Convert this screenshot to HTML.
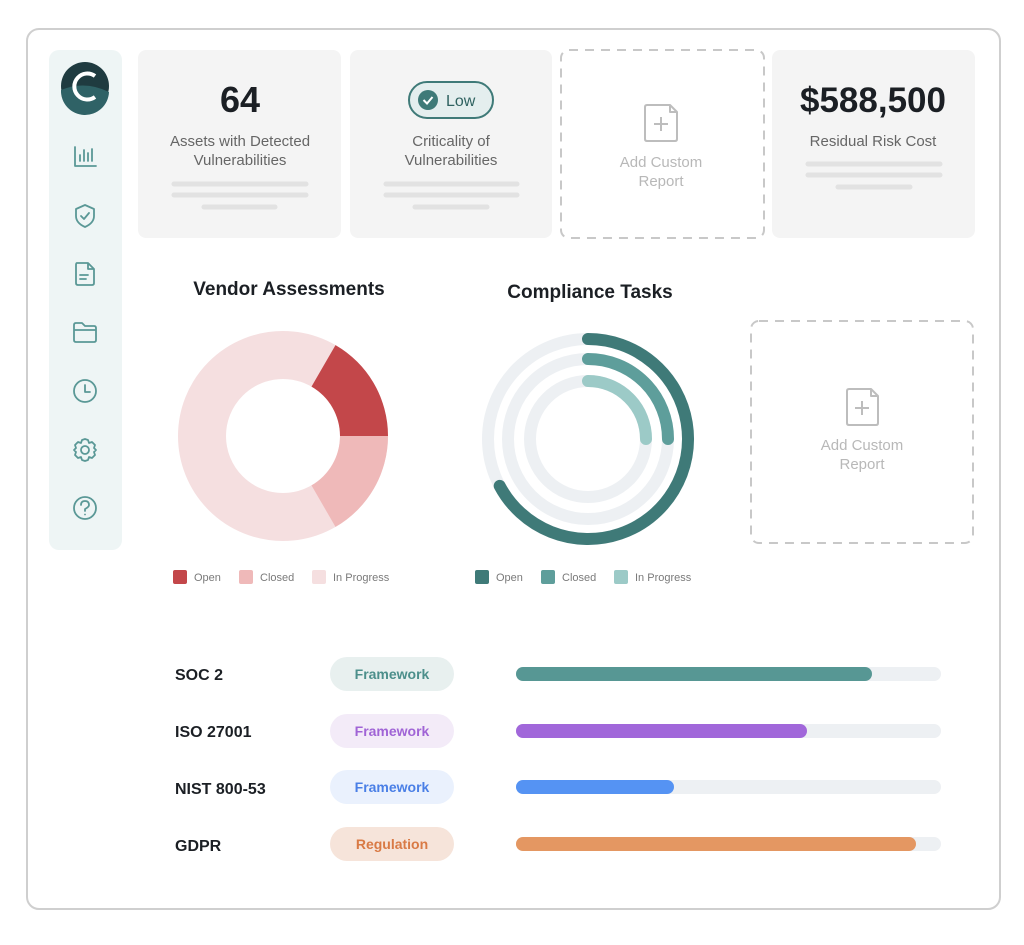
<!DOCTYPE html>
<html><head><style>
html,body{margin:0;padding:0;background:#fff;}
svg{display:block;font-family:"Liberation Sans",sans-serif;}
</style></head><body>
<svg width="1024" height="945" viewBox="0 0 1024 945" xmlns="http://www.w3.org/2000/svg">
<rect x="27" y="29" width="973" height="880" rx="12" fill="#fff" stroke="#cfcfcf" stroke-width="2"/>
<!-- sidebar -->
<rect x="49" y="50" width="73" height="500" rx="10" fill="#eef5f5"/>
<circle cx="85" cy="86" r="24" fill="#1f3b40"/>
<path d="M61 90 Q85 80 109 92 A24 24 0 0 1 61 90Z" fill="#2f6266"/>
<path d="M95 76 A13 13 0 1 0 95 97" fill="none" stroke="#fff" stroke-width="4"/>
<g fill="none" stroke="#5a9896" stroke-width="1.8" stroke-linecap="round" stroke-linejoin="round">
<path d="M75 147 V166 H96 M80 161 V155 M84 161 V150 M88 161 V153 M92 161 V149"/>
<path d="M85 205 L94 209 V216 Q94 223 85 227 Q76 223 76 216 V209Z M81 216 L84 219 L89 213"/>
<path d="M77 263 H88 L94 269 V283 Q94 285 92 285 H78 Q76 285 76 283 V265 Q76 263 77 263Z M88 263 V269 H94 M80 275 H88 M80 279 H86"/>
<path d="M74 325 Q74 323 76 323 H82 L85 326 H94 Q96 326 96 328 V340 Q96 342 94 342 H76 Q74 342 74 340Z M74 330 H96"/>
<circle cx="85" cy="391" r="11"/><path d="M85 385 V392 H90"/>
<circle cx="85" cy="450" r="4"/>
<path d="M85 439 L88 440 L89 443 L92 442 L95 445 L94 448 L96 450 L94 452 L95 455 L92 458 L89 457 L88 460 L85 461 L82 460 L81 457 L78 458 L75 455 L76 452 L74 450 L76 448 L75 445 L78 442 L81 443 L82 440Z"/>
<circle cx="85" cy="508" r="11"/><path d="M81 505 Q81 501 85 501 Q89 501 89 505 Q89 507 85 509 V511"/>
</g>
<circle cx="85" cy="514.5" r="0.9" fill="#5a9896"/>
<!-- top cards -->
<rect x="138" y="50" width="203" height="188" rx="8" fill="#f4f4f4"/>
<rect x="350" y="50" width="202" height="188" rx="8" fill="#f4f4f4"/>
<rect x="561" y="50" width="203" height="188" rx="8" fill="#fff" stroke="#c8c8c8" stroke-width="2" stroke-dasharray="9 7"/>
<rect x="772" y="50" width="203" height="188" rx="8" fill="#f4f4f4"/>
<rect x="751" y="321" width="222" height="222" rx="8" fill="#fff" stroke="#c8c8c8" stroke-width="2" stroke-dasharray="9 7"/>
<text x="240" y="112" text-anchor="middle" font-size="36" font-weight="bold" fill="#1b1f24">64</text>
<text x="240" y="146" text-anchor="middle" font-size="15" fill="#666">Assets with Detected</text>
<text x="240" y="165" text-anchor="middle" font-size="15" fill="#666">Vulnerabilities</text>
<rect x="409" y="82" width="84" height="36" rx="18" fill="#e4eeee" stroke="#3f7a78" stroke-width="2"/>
<circle cx="428" cy="100" r="10" fill="#3f7a78"/>
<path d="M423.5 100 L427 103.5 L432.5 97" fill="none" stroke="#fff" stroke-width="2"/>
<text x="446" y="106" font-size="16" fill="#2f6260">Low</text>
<text x="451" y="146" text-anchor="middle" font-size="15" fill="#666">Criticality of</text>
<text x="451" y="165" text-anchor="middle" font-size="15" fill="#666">Vulnerabilities</text>
<text x="873" y="112" text-anchor="middle" font-size="35" font-weight="bold" fill="#1b1f24">$588,500</text>
<text x="873" y="146" text-anchor="middle" font-size="15" fill="#666">Residual Risk Cost</text>
<g stroke="#e2e2e2" stroke-width="5" stroke-linecap="round">
<path d="M174 184 H306 M174 195 H306 M204 207 H275"/>
<path d="M386 184 H517 M386 195 H517 M415 207 H487"/>
<path d="M808 164 H940 M808 175 H940 M838 187 H910"/>
</g>
<g fill="none" stroke="#bdbdbd" stroke-width="2" stroke-linejoin="round">
<path d="M647 105 H670 L677 112 V139 Q677 141 675 141 H647 Q645 141 645 139 V107 Q645 105 647 105Z M670 105 V112 H677 M661 117 V131 M654 124 H668"/>
<path d="M849 389 H871 L878 396 V423 Q878 425 876 425 H849 Q847 425 847 423 V391 Q847 389 849 389Z M871 389 V396 H878 M862 401 V415 M855 408 H869"/>
</g>
<text x="661" y="167" text-anchor="middle" font-size="15" fill="#b8b8b8">Add Custom</text>
<text x="661" y="186" text-anchor="middle" font-size="15" fill="#b8b8b8">Report</text>
<text x="862" y="450" text-anchor="middle" font-size="15" fill="#b8b8b8">Add Custom</text>
<text x="862" y="469" text-anchor="middle" font-size="15" fill="#b8b8b8">Report</text>
<!-- Vendor donut -->
<text x="289" y="295" text-anchor="middle" font-size="19" font-weight="bold" fill="#1b1f24">Vendor Assessments</text>
<circle cx="283" cy="436" r="81" fill="none" stroke="#f5dfe0" stroke-width="48"/>
<path d="M335.5 345.1 A105 105 0 0 1 388 436 H340 A57 57 0 0 0 311.5 386.6Z" fill="#c3474a"/>
<path d="M388 436 A105 105 0 0 1 335.5 526.9 L311.5 485.4 A57 57 0 0 0 340 436Z" fill="#efb9b9"/>
<!-- Compliance rings -->
<text x="590" y="298" text-anchor="middle" font-size="19" font-weight="bold" fill="#1b1f24">Compliance Tasks</text>
<g fill="none" stroke="#edf0f3" stroke-width="12">
<circle cx="588" cy="439" r="100"/><circle cx="588" cy="439" r="80"/><circle cx="588" cy="439" r="58"/>
</g>
<g fill="none" stroke-linecap="round" stroke-width="12">
<path d="M588 339 A100 100 0 1 1 499.7 485.9" stroke="#3f7a78"/>
<path d="M588 359 A80 80 0 0 1 668 439" stroke="#5e9e9b"/>
<path d="M588 381 A58 58 0 0 1 646 439" stroke="#9ccac7"/>
</g>
<!-- legends -->
<g font-size="11" fill="#7a7a7a">
<rect x="173" y="570" width="14" height="14" rx="2" fill="#c3474a"/><text x="194" y="581">Open</text>
<rect x="239" y="570" width="14" height="14" rx="2" fill="#efb9b9"/><text x="260" y="581">Closed</text>
<rect x="312" y="570" width="14" height="14" rx="2" fill="#f5dfe0"/><text x="333" y="581">In Progress</text>
<rect x="475" y="570" width="14" height="14" rx="2" fill="#3f7a78"/><text x="496" y="581">Open</text>
<rect x="541" y="570" width="14" height="14" rx="2" fill="#5e9e9b"/><text x="562" y="581">Closed</text>
<rect x="614" y="570" width="14" height="14" rx="2" fill="#9ccac7"/><text x="635" y="581">In Progress</text>
</g>
<!-- frameworks -->
<g font-size="16" font-weight="bold" fill="#1b1f24">
<text x="175" y="680">SOC 2</text>
<text x="175" y="737">ISO 27001</text>
<text x="175" y="794">NIST 800-53</text>
<text x="175" y="851">GDPR</text>
</g>
<rect x="330" y="657" width="124" height="34" rx="17" fill="#e8f0ef"/>
<rect x="330" y="714" width="124" height="34" rx="17" fill="#f3ebf8"/>
<rect x="330" y="770" width="124" height="34" rx="17" fill="#eaf1fd"/>
<rect x="330" y="827" width="124" height="34" rx="17" fill="#f6e4da"/>
<g font-size="14" font-weight="bold" text-anchor="middle">
<text x="392" y="679" fill="#4c8f8b">Framework</text>
<text x="392" y="736" fill="#a064d6">Framework</text>
<text x="392" y="792" fill="#4a7fe6">Framework</text>
<text x="392" y="849" fill="#d97a45">Regulation</text>
</g>
<g stroke-linecap="round" stroke-width="14">
<path d="M523 674 H934 M523 731 H934 M523 787 H934 M523 844 H934" stroke="#edf0f3"/>
<path d="M523 674 H865" stroke="#579794"/>
<path d="M523 731 H800" stroke="#a167da"/>
<path d="M523 787 H667" stroke="#5593f3"/>
<path d="M523 844 H909" stroke="#e49762"/>
</g>
</svg>
</body></html>
